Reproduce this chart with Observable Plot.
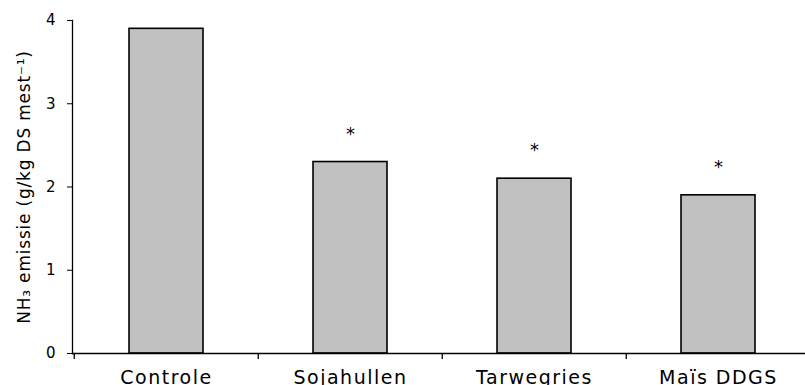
<!DOCTYPE html>
<html>
<head>
<meta charset="utf-8">
<script src="https://cdn.jsdelivr.net/npm/d3@7"></script>
<script src="https://cdn.jsdelivr.net/npm/@observablehq/plot@0.6"></script>
<style>
  html, body { margin: 0; padding: 0; background: #fff; }
  #chart svg { display: block; }
</style>
</head>
<body>
<div id="chart"></div>
<script>
const categories = ["Controle", "Sojahullen", "Tarwegries", "Maïs DDGS"];
const values = [3.9, 2.3, 2.1, 1.9];
const significant = [false, true, true, true];
const yTicks = [0, 1, 2, 3, 4];
const yLabel = "NH₃ emissie (g/kg DS mest⁻¹)";

const data = categories.map((c, i) => ({category: c, value: values[i], sig: significant[i]}));

const W = 805, H = 385;
const mL = 72, mT = 20, mB = 32;
const xRange = [73, 811];
const step = (xRange[1] - xRange[0]) / categories.length;

const chart = Plot.plot({
  width: W,
  height: H,
  marginLeft: mL,
  marginRight: 0,
  marginTop: mT,
  marginBottom: mB,
  style: {fontFamily: "DejaVu Sans, Verdana, sans-serif", fontSize: "16px", color: "#000", background: "#fff"},
  x: {domain: categories, range: xRange, paddingInner: 0.6, paddingOuter: 0.3},
  y: {domain: [0, 4]},
  marks: [
    Plot.barY(data, {x: "category", y: "value", fill: "#c0c0c0", stroke: "#000", strokeWidth: 1.6}),
    Plot.text(data.filter(d => d.sig), {x: "category", y: "value", text: () => "*", dy: -28, fontSize: 18, fill: "#000"}),
    Plot.frame({anchor: "left", stroke: "#000", strokeWidth: 1.3}),
    Plot.frame({anchor: "bottom", stroke: "#000", strokeWidth: 1.3}),
    Plot.axisY({ticks: yTicks, tickSize: 5, tickPadding: 12, fontSize: 15, label: yLabel, labelAnchor: "center", labelArrow: "none", labelOffset: 55, tickFormat: d3.format("d")}),
    Plot.axisX({tickSize: 0, tickPadding: 17, fontSize: 19, label: null}),
    Plot.ruleX(categories, {x: d => d, y1: 0, y2: 0, insetBottom: -6, dx: -step / 2, stroke: "#000", strokeWidth: 1.3})
  ]
});
d3.select(chart).selectAll('g[aria-label="x-axis tick label"] text').attr("letter-spacing", "1.5px");
d3.select(chart).selectAll('g[aria-label="y-axis label"] text').attr("letter-spacing", "0.8px").attr("font-size", "17px");
document.getElementById("chart").appendChild(chart);
</script>
</body>
</html>
